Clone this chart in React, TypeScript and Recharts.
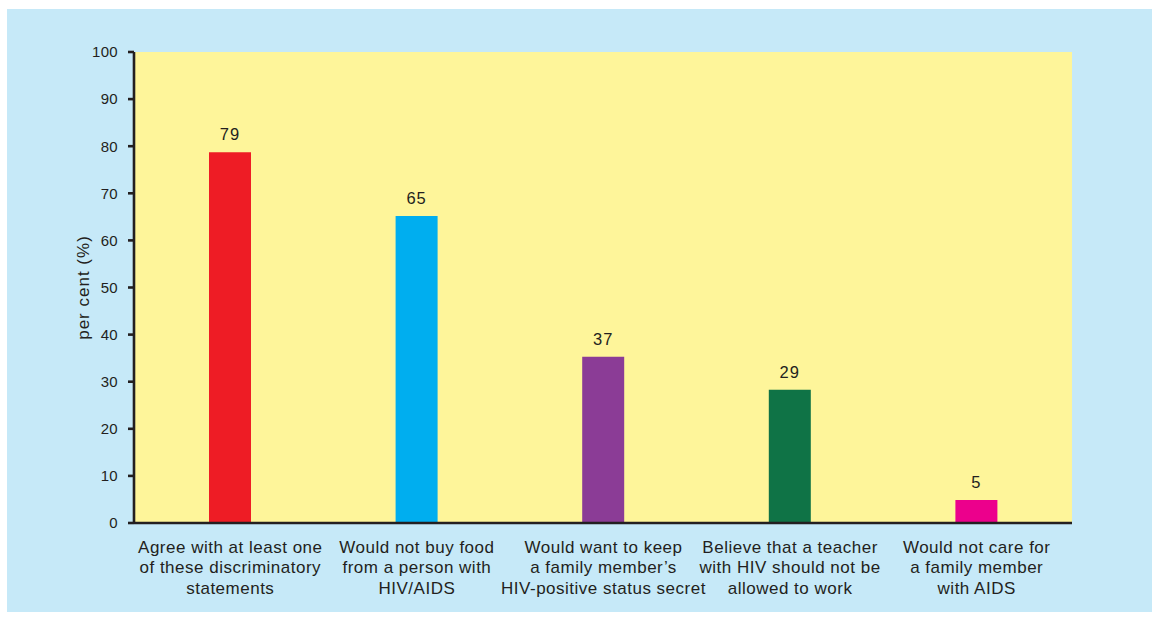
import React from 'react';
import { BarChart, Bar, XAxis, YAxis, CartesianGrid, LabelList, Cell } from 'recharts';

const categories = [
  'Agree with at least one\nof these discriminatory\nstatements',
  'Would not buy food\nfrom a person with\nHIV/AIDS',
  'Would want to keep\na family member\u2019s\nHIV-positive status secret',
  'Believe that a teacher\nwith HIV should not be\nallowed to work',
  'Would not care for\na family member\nwith AIDS',
];
const barValues = [78.7, 65.2, 35.3, 28.3, 4.9];
const valueLabels = ['79', '65', '37', '29', '5'];
const barColors = ['#ee1c25', '#00aeef', '#8b3c96', '#0f7346', '#ec008c'];
const yTicks = [0, 10, 20, 30, 40, 50, 60, 70, 80, 90, 100];

const data = categories.map((c, i) => ({ name: c, value: barValues[i], label: valueLabels[i] }));

const FONT = '"Liberation Sans", Arial, Helvetica, sans-serif';
const TEXT = '#231f20';

const XTick = (props: any) => {
  const { x, y, payload } = props;
  const lines = String(payload.value).split('\n');
  return (
    <g>
      {lines.map((l: string, i: number) => (
        <text key={i} x={x} y={y + 22 + i * 20.4} textAnchor="middle" fill={TEXT} fontSize={17} letterSpacing={0.5} fontFamily={FONT}>
          {l}
        </text>
      ))}
    </g>
  );
};

const YLabel = (props: any) => {
  const { viewBox } = props;
  const cx = viewBox.x + 9;
  const cy = viewBox.y + viewBox.height / 2;
  return (
    <text x={cx} y={cy} transform={`rotate(-90, ${cx}, ${cy})`} textAnchor="middle" dominantBaseline="central" fill={TEXT} fontSize={17} letterSpacing={1} fontFamily={FONT}>
      per cent (%)
    </text>
  );
};

export default function App() {
  return (
    <div style={{ position: 'absolute', left: 0, top: 0, width: 1152, height: 617 }}>
      <div style={{ position: 'absolute', left: 7, top: 9, width: 1145, height: 603, background: '#c6e9f8' }} />
      <div style={{ position: 'absolute', left: 0, top: 0 }}>
        <BarChart
          width={1152}
          height={617}
          data={data}
          margin={{ top: 52, right: 80, bottom: 0, left: 74 }}
          barSize={42}
        >
          <CartesianGrid fill="#fef59a" stroke="none" horizontal={false} vertical={false} />
          <XAxis
            dataKey="name"
            interval={0}
            tickLine={false}
            axisLine={{ stroke: TEXT, strokeWidth: 2.6 }}
            tick={<XTick />}
            padding={{ left: 3, right: 2 }}
            height={94}
          />
          <YAxis
            width={60}
            domain={[0, 100]}
            ticks={yTicks}
            interval={0}
            tickSize={6}
            tickMargin={10}
            tickLine={{ stroke: TEXT, strokeWidth: 2.6 }}
            axisLine={{ stroke: TEXT, strokeWidth: 2.6 }}
            tick={{ fill: TEXT, fontSize: 15, fontFamily: FONT, letterSpacing: 0.3 }}
            label={<YLabel />}
          />
          <Bar dataKey="value" isAnimationActive={false}>
            {data.map((d, i) => (
              <Cell key={i} fill={barColors[i]} />
            ))}
            <LabelList dataKey="label" position="top" offset={12} fill={TEXT} fontSize={16.5} letterSpacing={1} fontFamily={FONT} />
          </Bar>
        </BarChart>
      </div>
    </div>
  );
}
